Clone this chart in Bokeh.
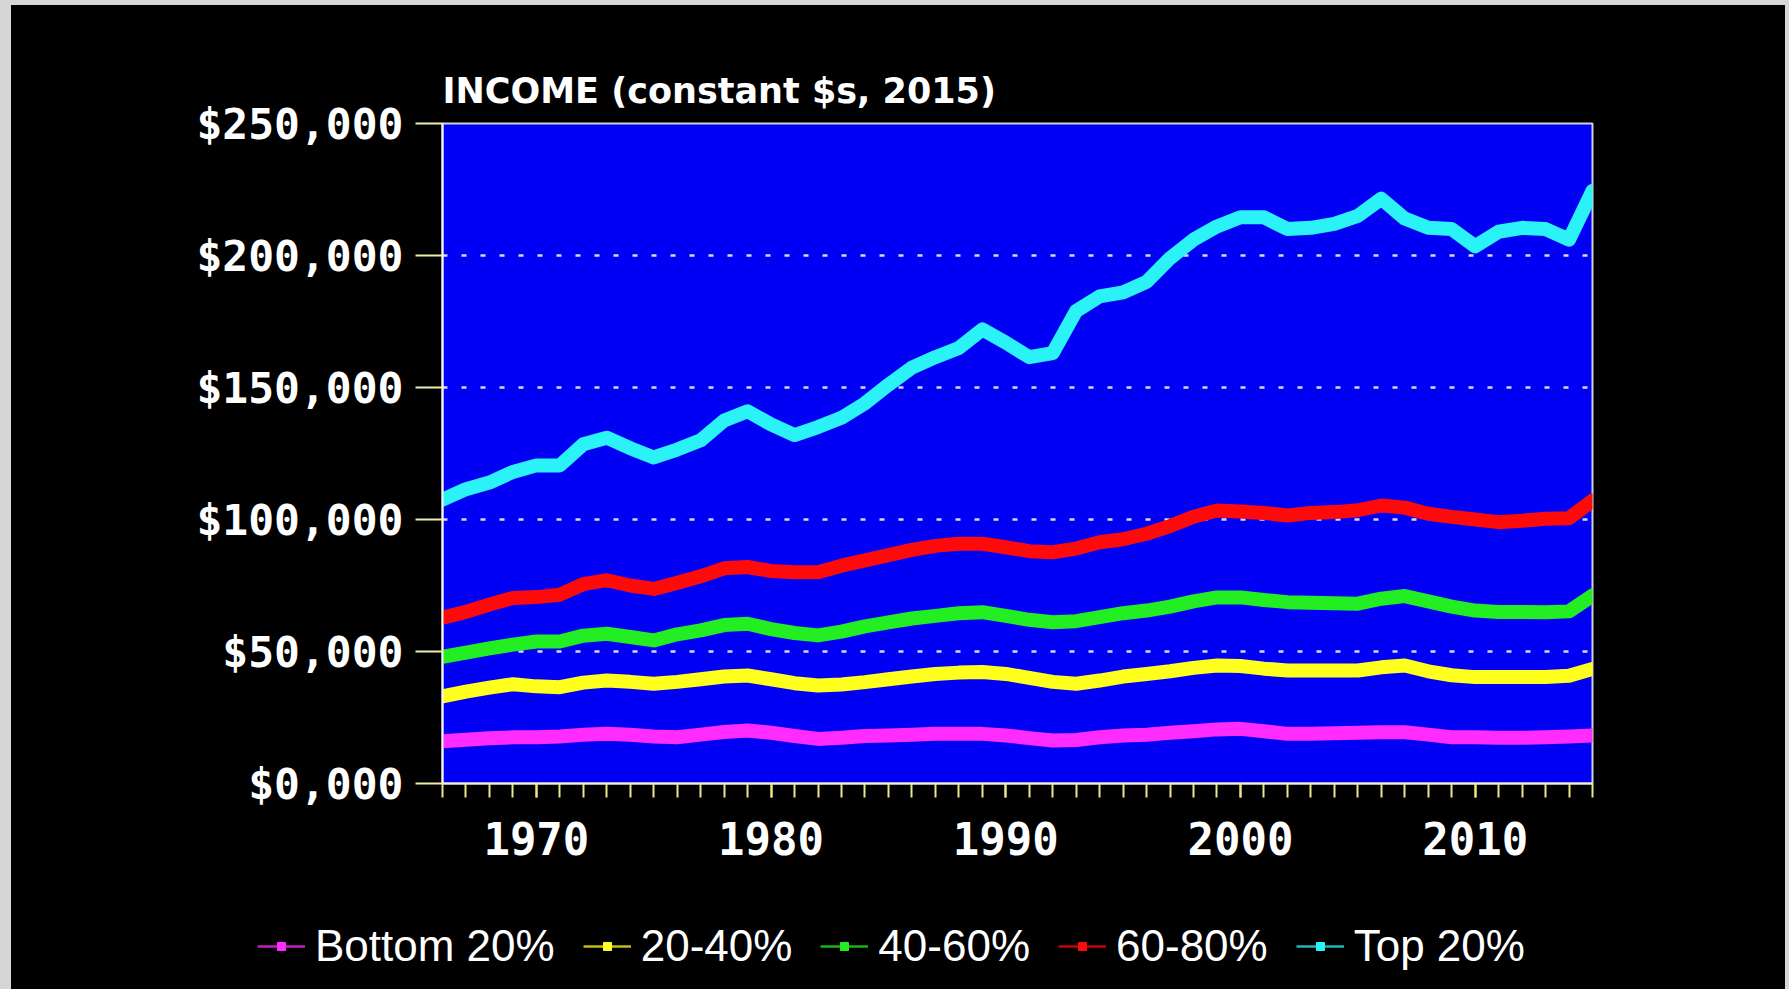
from bokeh.plotting import figure
from bokeh.models import FixedTicker, Range1d, Legend, LegendItem
from bokeh.embed import file_html
from bokeh.resources import INLINE

# ---------------- data ----------------
years = list(range(1966, 2016))

bottom_20 = [16000, 16600, 17100, 17500, 17500, 17800, 18500, 18800, 18500, 17800,
             17500, 18500, 19500, 20100, 19200, 18000, 16900, 17300, 18000, 18200,
             18500, 18800, 18800, 18800, 18200, 17200, 16300, 16500, 17500, 18200,
             18500, 19200, 19800, 20500, 20700, 19800, 18800, 18800, 19000, 19200,
             19400, 19400, 18500, 17500, 17500, 17300, 17300, 17500, 17800, 18200]

q20_40 = [33000, 34800, 36300, 37600, 36800, 36500, 38200, 39000, 38500, 37800,
          38500, 39500, 40500, 40900, 39500, 38000, 37100, 37500, 38400, 39500,
          40500, 41500, 42000, 42200, 41500, 40000, 38500, 37800, 39000, 40500,
          41500, 42500, 43800, 44700, 44500, 43500, 42800, 42800, 42800, 42800,
          44000, 44700, 42500, 41000, 40300, 40300, 40300, 40300, 40800, 43400]

q40_60 = [48000, 49600, 51200, 52600, 53800, 53800, 56000, 56700, 55500, 54200,
          56500, 58000, 60000, 60500, 58500, 57000, 56100, 57500, 59500, 61000,
          62500, 63500, 64500, 64900, 63500, 62000, 61100, 61500, 63000, 64500,
          65500, 67000, 69000, 70500, 70500, 69500, 68700, 68500, 68300, 68100,
          70000, 71000, 69000, 67000, 65500, 65000, 65000, 64900, 65200, 71200]

q60_80 = [62800, 65000, 67800, 70300, 70600, 71500, 75500, 77000, 75000, 73700,
          76000, 78500, 81500, 82000, 80500, 80000, 80000, 82500, 84500, 86500,
          88500, 90000, 90800, 90800, 89500, 88000, 87600, 89000, 91400, 92500,
          94600, 97500, 101000, 103400, 103000, 102500, 101500, 102500, 102800, 103500,
          105300, 104500, 102200, 101000, 100000, 99000, 99500, 100300, 100500, 107200]

top_20 = [107500, 111500, 114000, 118000, 120500, 120500, 128500, 131000, 127000, 123500,
          126500, 130000, 137500, 141000, 136000, 132000, 135000, 138500, 144000, 151000,
          157500, 161500, 165000, 172000, 167000, 161500, 163000, 179000, 184500, 186000,
          190000, 199000, 206000, 211000, 214500, 214500, 210000, 210500, 212000, 215000,
          221500, 214000, 210500, 210000, 203500, 209000, 210500, 210000, 206000, 224500]

series_names = ["Bottom 20%", "20-40%", "40-60%", "60-80%", "Top 20%"]
series_values = [bottom_20, q20_40, q40_60, q60_80, top_20]
series_colors = ["#ff2bff", "#ffff1e", "#22ee22", "#ff0a0a", "#2af2f6"]

y_ticks = [0, 50000, 100000, 150000, 200000, 250000]
y_tick_labels = ["$0,000", "$50,000", "$100,000", "$150,000", "$200,000", "$250,000"]
x_ticks = [1970, 1980, 1990, 2000, 2010]

title_text = "INCOME (constant $s, 2015)"

# ---------------- main figure ----------------
p = figure(width=1774, height=900, output_backend="svg", toolbar_location=None,
           x_range=Range1d(1966, 2015), y_range=Range1d(0, 250000),
           min_border_left=431, min_border_right=193,
           min_border_top=118, min_border_bottom=122)

p.background_fill_color = "#0000f5"
p.border_fill_color = "black"
p.outline_line_color = "#d2d2d2"
p.outline_line_width = 2

p.title.text = title_text
p.title.text_color = "white"
p.title.text_font = "DejaVu Sans"
p.title.text_font_style = "bold"
p.title.text_font_size = "35px"
p.title.align = "left"
p.title.standoff = 26

# grid
p.xgrid.grid_line_color = None
p.ygrid.grid_line_color = "white"
p.ygrid.grid_line_width = 2.5
p.ygrid.grid_line_dash = "5 14"
p.ygrid.grid_line_alpha = 0.85

# y axis
p.yaxis.ticker = FixedTicker(ticks=y_ticks)
p.yaxis.major_label_overrides = {t: l for t, l in zip(y_ticks, y_tick_labels)}
p.yaxis.axis_line_color = "#f4f4f4"
p.yaxis.axis_line_width = 2
p.yaxis.major_tick_line_color = "#eeeeaa"
p.yaxis.major_tick_line_width = 2
p.yaxis.major_tick_out = 27
p.yaxis.major_tick_in = 0
p.yaxis.minor_tick_line_color = None
p.yaxis.major_label_standoff = 12
p.yaxis.major_label_text_color = "white"
p.yaxis.major_label_text_font = "DejaVu Sans Mono"
p.yaxis.major_label_text_font_style = "bold"
p.yaxis.major_label_text_font_size = "43px"

# x axis
p.xaxis.ticker = FixedTicker(ticks=x_ticks, minor_ticks=years)
p.xaxis.axis_line_color = "#f2f2d8"
p.xaxis.axis_line_width = 2
p.xaxis.major_tick_line_color = "#e8e888"
p.xaxis.major_tick_line_width = 2
p.xaxis.major_tick_out = 14
p.xaxis.major_tick_in = 0
p.xaxis.minor_tick_line_color = "#e8e888"
p.xaxis.minor_tick_line_width = 2
p.xaxis.minor_tick_out = 14
p.xaxis.minor_tick_in = 0
p.xaxis.major_label_standoff = 24
p.xaxis.major_label_text_color = "white"
p.xaxis.major_label_text_font = "DejaVu Sans Mono"
p.xaxis.major_label_text_font_style = "bold"
p.xaxis.major_label_text_font_size = "44px"

for vals, col in zip(series_values, series_colors):
    p.line(years, vals, line_color=col, line_width=14, line_join="round", line_cap="round")

# ---------------- legend strip (separate root, so its frame is not aligned) ----------------
lg = figure(width=1774, height=82, output_backend="svg", toolbar_location=None,
            x_range=Range1d(0, 1), y_range=Range1d(0, 1),
            x_axis_location=None, y_axis_location=None, min_border=0)
lg.background_fill_color = "black"
lg.border_fill_color = "black"
lg.outline_line_color = None
lg.grid.visible = False

items = []
for name, vals, col in zip(series_names, series_values, series_colors):
    # same series drawn thin (outside this strip's visible range) -> legend glyphs
    lr = lg.line(years, vals, line_color=col, line_width=2.5, line_alpha=0.75)
    sr = lg.scatter(years, vals, marker="square", size=9, fill_color=col, line_color=col)
    items.append(LegendItem(label=name, renderers=[lr, sr]))

legend = Legend(items=items, orientation="horizontal", location="center_left",
                background_fill_alpha=0, border_line_color=None,
                label_text_color="white", label_text_font="Liberation Sans",
                label_text_font_size="44px", glyph_width=48, glyph_height=20,
                label_standoff=10, spacing=28, padding=0, margin=246)
lg.add_layout(legend, "center")

template = ("{% block postamble %}<style>"
            "html{margin:0;padding:0;background:#d6d6d6;overflow:hidden;}"
            "body{margin:5px 4px 0 11px;padding:0;background:black;line-height:0;}"
            "</style>{% endblock %}")
open("out.html", "w").write(file_html([p, lg], INLINE, template=template))
